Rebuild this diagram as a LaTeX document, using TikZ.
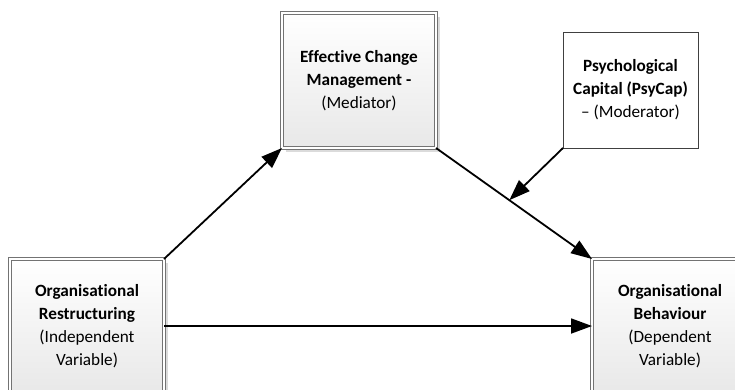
\documentclass[tikz,border=0pt]{standalone}
\usepackage{fontspec}
\setmainfont[Ligatures=CommonOff]{Carlito}
\usetikzlibrary{arrows.meta,shadows}
\begin{document}
\begin{tikzpicture}[x=1pt,y=-1pt,
  font=\fontsize{17.2}{23}\selectfont,
  varbox/.style={draw=black!55, double=white, double distance=1.8pt, line width=0.7pt,
    top color=white, bottom color=black!9, align=center,
    inner sep=0pt, outer sep=0pt,
    drop shadow={shadow xshift=4pt, shadow yshift=-4pt, fill=black!14, opacity=1}},
  modbox/.style={draw=black!75, line width=0.9pt, fill=white, align=center,
    inner sep=0pt, outer sep=0pt},
  link/.style={line width=1.8pt, -{Triangle[length=21pt,width=15pt]}}]
  \useasboundingbox (0,0) rectangle (735,389);
  \clip (0,0) rectangle (735,389);
  \fill[white] (0,0) rectangle (735,389);

  % variables of the model
  \node[varbox, minimum width=154pt, minimum height=135pt] (med) at (359,80.5)
    {\textbf{Effective Change}\\\textbf{Management -}\\(Mediator)};
  \node[modbox, minimum width=135pt, minimum height=116pt] (mod) at (630.5,90)
    {\textbf{Psychological}\\\textbf{Capital (PsyCap)}\\– (Moderator)};
  \node[varbox, minimum width=154pt, minimum height=134pt] (iv) at (87,326)
    {\textbf{Organisational}\\\textbf{Restructuring}\\(Independent\\Variable)};
  \node[varbox, minimum width=156pt, minimum height=134pt] (dv) at (670,326)
    {\textbf{Organisational}\\\textbf{Behaviour}\\(Dependent\\Variable)};

  % paths between the variables
  \draw[link] (iv.north east) -- (med.south west);
  \draw[link] (med.south east) -- coordinate[pos=0.47] (hit) (dv.north west);
  \draw[link] (mod.south west) -- (hit);
  \draw[link] (iv.east) -- (dv.west);
\end{tikzpicture}
\end{document}
